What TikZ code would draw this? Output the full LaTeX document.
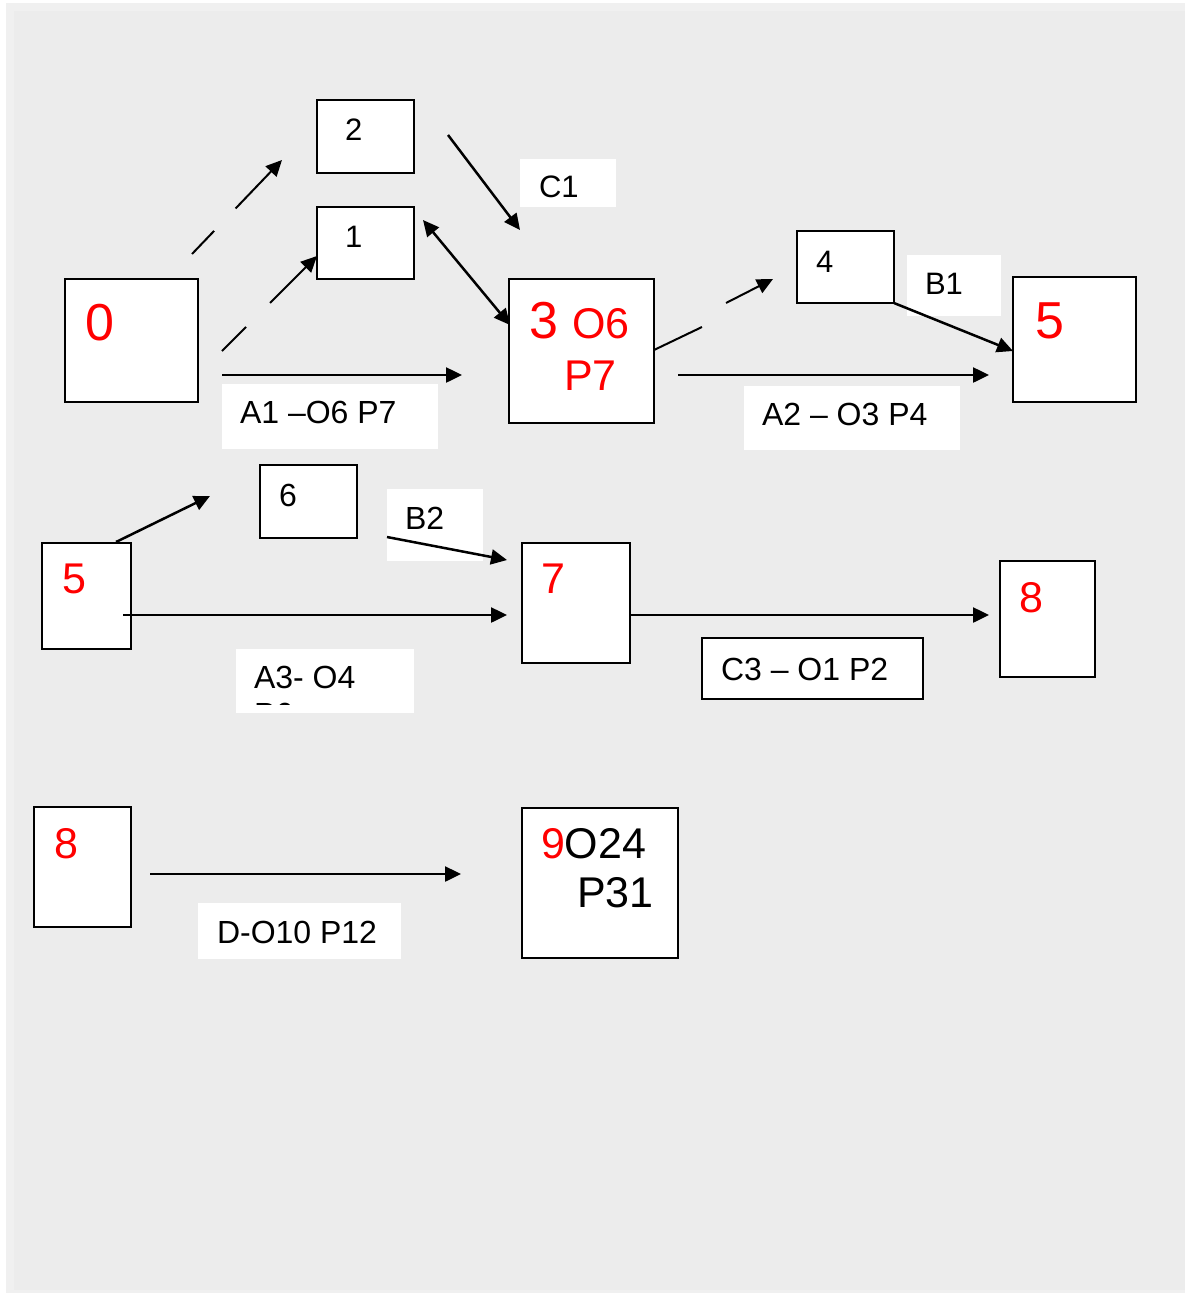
\documentclass[tikz,border=0pt]{standalone}
\usepackage{fontspec}
\setmainfont{Liberation Sans}
\usetikzlibrary{arrows.meta}
\definecolor{bgA}{HTML}{F0F0F0}
\definecolor{bgB}{HTML}{ECECEC}
\definecolor{rd}{HTML}{FF0000}
\tikzset{
  box/.style={draw=black, line width=2pt, fill=white, inner sep=0pt, rectangle},
  lbl/.style={fill=white, inner sep=0pt, rectangle},
  lblb/.style={draw=black, line width=2pt, fill=white, inner sep=0pt, rectangle},
  txt/.style={anchor=base west, inner sep=0pt, outer sep=0pt},
  tip/.style={-{Triangle[length=16pt,width=15pt]}},
  arr/.style={line width=2.5pt, tip},
  darr/.style={line width=2pt, tip},
  fBig/.style={font=\fontsize{52}{60}\selectfont},
  fMed/.style={font=\fontsize{43}{50}\selectfont},
  fLab/.style={font=\fontsize{32}{37}\selectfont},
  fSm/.style={font=\fontsize{31}{36}\selectfont},
  fSmb/.style={font=\fontsize{32}{37}\selectfont},
}
\begin{document}
\begin{tikzpicture}[x=1pt, y=-1pt]
\useasboundingbox (0,0) rectangle (1185,1293);
% background
\fill[white] (0,0) rectangle (1185,1293);
\fill[bgA] (6,3) rectangle (1185,1293);
\fill[bgB] (14,11) rectangle (1185,1290);

% label backgrounds
\node[lbl, minimum width=96pt, minimum height=48pt] (lC1) at (568,183) {};
\node[lbl, minimum width=216pt, minimum height=65pt] (lA1) at (330,416.5) {};
\node[lbl, minimum width=94pt, minimum height=61pt] (lB1) at (954,285.5) {};
\node[lbl, minimum width=216pt, minimum height=64pt] (lA2) at (852,418) {};
\node[lbl, minimum width=96pt, minimum height=72pt] (lB2) at (435,525) {};
\node[lbl, minimum width=178pt, minimum height=64pt] (lA3) at (325,681) {};
\node[lblb, minimum width=221pt, minimum height=61pt] (lC3) at (812.5,668.5) {};
\node[lbl, minimum width=203pt, minimum height=56pt] (lD) at (299.5,931) {};

% boxes
\node[box, minimum width=133pt, minimum height=123pt] (b0) at (131.5,340.5) {};
\node[box, minimum width=97pt, minimum height=73pt] (b2) at (365.5,136.5) {};
\node[box, minimum width=97pt, minimum height=72pt] (b1) at (365.5,243) {};
\node[box, minimum width=145pt, minimum height=144pt] (b3) at (581.5,351) {};
\node[box, minimum width=97pt, minimum height=72pt] (b4) at (845.5,267) {};
\node[box, minimum width=123pt, minimum height=125pt] (b5) at (1074.5,339.5) {};
\node[box, minimum width=89pt, minimum height=106pt] (b5l) at (86.5,596) {};
\node[box, minimum width=97pt, minimum height=73pt] (b6) at (308.5,501.5) {};
\node[box, minimum width=108pt, minimum height=120pt] (b7) at (576,603) {};
\node[box, minimum width=95pt, minimum height=116pt] (b8r) at (1047.5,619) {};
\node[box, minimum width=97pt, minimum height=120pt] (b8l) at (82.5,867) {};
\node[box, minimum width=156pt, minimum height=150pt] (b9) at (600,883) {};

% texts
\node[txt, fBig, text=rd] (t0) at (85,340) {0};
\node[txt, fSm] (t2) at (345,140) {2};
\node[txt, fSm] (t1) at (345,247) {1};
\node[txt, fSm] (tC1) at (539,197) {C1};
\node[txt, text=rd] (t3) at (529,338) {\fontsize{52}{60}\selectfont 3 \fontsize{43}{50}\selectfont O6};
\node[txt, fMed, text=rd] (t3b) at (564,390) {P7};
\node[txt, fSm] (t4) at (816,272) {4};
\node[txt, fSm] (tB1) at (925,294) {B1};
\node[txt, fBig, text=rd] (t5) at (1035,338) {5};
\node[txt, fLab] (tA1) at (240,423) {A1 –O6 P7};
\node[txt, fLab] (tA2) at (762,425) {A2 – O3 P4};
\node[txt, fMed, text=rd] (t5l) at (62,593) {5};
\node[txt, fSmb] (t6) at (279,506) {6};
\node[txt, fSmb] (tB2) at (405,529) {B2};
\begin{scope}
  \clip (236,649) rectangle (414,704);
  \node[txt, fLab, align=left] (tA3) at (254,688) {A3- O4};
  \node[txt, fLab] (tA3b) at (254,725) {P6};
\end{scope}
\node[txt, fMed, text=rd] (t7) at (541,593) {7};
\node[txt, fLab] (tC3) at (721,680) {C3 – O1 P2};
\node[txt, fMed, text=rd] (t8r) at (1019,612) {8};
\node[txt, fMed, text=rd] (t8l) at (54,858) {8};
\node[txt, fLab] (tD) at (217,943) {D-O10 P12};
\node[txt, fMed] (t9) at (541,858) {\textcolor{rd}{9}O24};
\node[txt, fMed] (t9b) at (577,907) {P31};

% connector end points
\coordinate (p02s) at (192,254);  \coordinate (p02e) at (282,160);
\coordinate (p01s) at (222,351);  \coordinate (p01e) at (317,256);
\coordinate (pA1s) at (222,375);  \coordinate (pA1e) at (462,375);
\coordinate (p2Cs) at (448,135);  \coordinate (p2Ce) at (520,230);
\coordinate (p13s) at (423,220);  \coordinate (p13e) at (510,325);
\coordinate (p34s) at (654,350);  \coordinate (p34a) at (702,327);
\coordinate (p34b) at (726,303);  \coordinate (p34e) at (773,279);
\coordinate (pA2s) at (678,375);  \coordinate (pA2e) at (989,375);
\coordinate (p45s) at (894,303);  \coordinate (p45e) at (1013,351);
\coordinate (p56s) at (116,542);  \coordinate (p56e) at (210,496);
\coordinate (pB2s) at (387,537);  \coordinate (pB2e) at (507,560);
\coordinate (pA3s) at (123,615);  \coordinate (pA3e) at (507,615);
\coordinate (pC3s) at (630,615);  \coordinate (pC3e) at (989,615);
\coordinate (pDs) at (150,874);   \coordinate (pDe) at (461,874);

% connectors
\draw[darr, dash pattern=on 32pt off 31pt on 400pt off 0pt] (p02s) -- (p02e);
\draw[darr, dash pattern=on 34pt off 34pt on 400pt off 0pt] (p01s) -- (p01e);
\draw[arr] (pA1s) -- (pA1e);
\draw[arr] (p2Cs) -- (p2Ce);
\draw[line width=2.5pt, {Triangle[length=16pt,width=15pt]}-{Triangle[length=16pt,width=15pt]}] (p13s) -- (p13e);
\draw[line width=2pt] (p34s) -- (p34a);
\draw[darr] (p34b) -- (p34e);
\draw[arr] (pA2s) -- (pA2e);
\draw[arr] (p45s) -- (p45e);
\draw[arr] (p56s) -- (p56e);
\draw[arr] (pB2s) -- (pB2e);
\draw[arr] (pA3s) -- (pA3e);
\draw[arr] (pC3s) -- (pC3e);
\draw[arr] (pDs) -- (pDe);
\end{tikzpicture}
\end{document}
